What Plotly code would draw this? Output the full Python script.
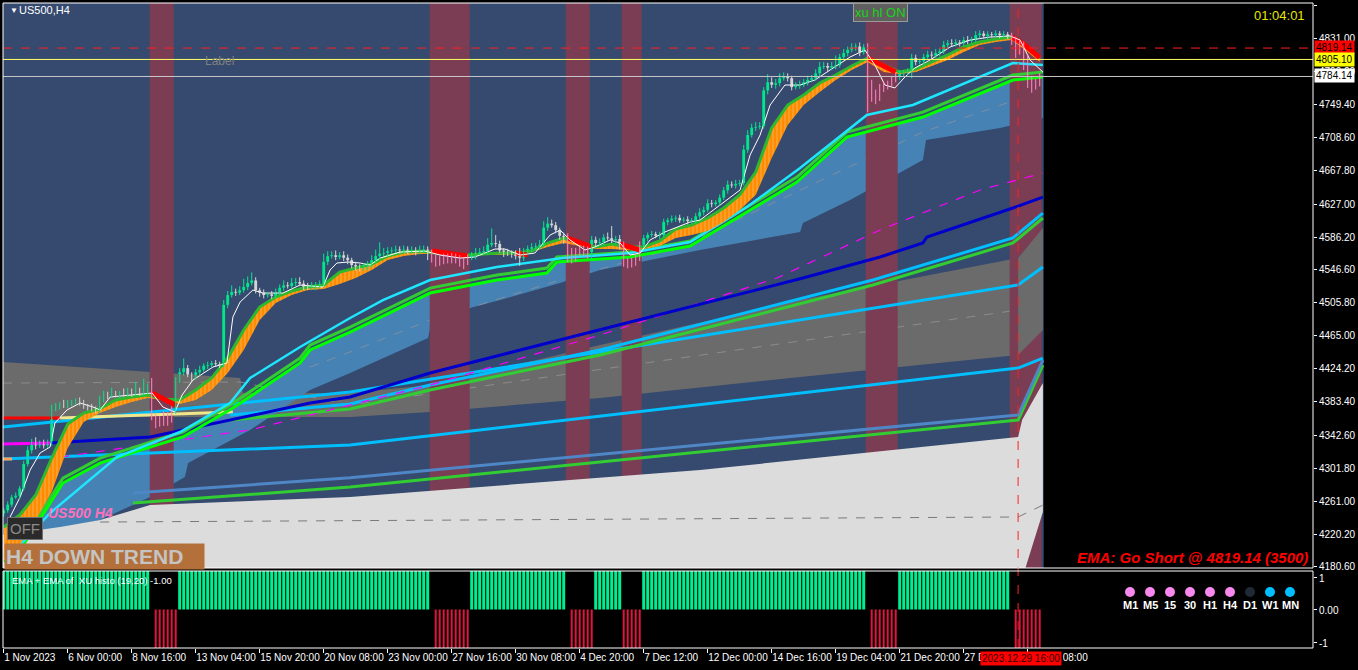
import plotly.graph_objects as go

# ---------------- data ----------------
closes = [
    4250, 4257, 4266, 4268, 4277, 4307, 4324, 4334, 4330, 4333, 4330, 4334, 4375, 4378, 4380, 4379, 4382, 4383, 4384, 4382,
    4378, 4377, 4375, 4373, 4386, 4393, 4391, 4393, 4392, 4394, 4393, 4396, 4394, 4396, 4394, 4397, 4398, 4364, 4361, 4363,
    4368, 4364, 4373, 4410, 4420, 4425, 4417, 4414, 4420, 4423, 4428, 4429, 4431, 4430, 4429, 4503, 4515, 4519, 4518, 4521,
    4525, 4530, 4533, 4521, 4518, 4515, 4516, 4514, 4518, 4524, 4527, 4526, 4530, 4531, 4529, 4525, 4524, 4525, 4526, 4529,
    4556, 4563, 4564, 4562, 4564, 4561, 4558, 4552, 4550, 4548, 4550, 4552, 4558, 4563, 4566, 4567, 4569, 4570, 4571, 4570,
    4571, 4569, 4570, 4568, 4570, 4571, 4566, 4561, 4558, 4559, 4562, 4563, 4561, 4560, 4558, 4556, 4561, 4563, 4567, 4568,
    4569, 4577, 4579, 4578, 4570, 4568, 4567, 4566, 4563, 4561, 4568, 4572, 4574, 4575, 4577, 4598, 4603, 4601, 4595, 4588,
    4583, 4567, 4566, 4568, 4570, 4571, 4568, 4583, 4579, 4580, 4586, 4585, 4583, 4584, 4577, 4558, 4556, 4557, 4561, 4577,
    4585, 4589, 4590, 4588, 4589, 4605, 4607, 4609, 4610, 4607, 4608, 4606, 4607, 4612, 4617, 4620, 4628, 4627, 4629, 4635,
    4644, 4651, 4650, 4652, 4653, 4694, 4712, 4721, 4722, 4723, 4767, 4777, 4774, 4776, 4782, 4784, 4782, 4771, 4773, 4774,
    4777, 4780, 4782, 4788, 4796, 4797, 4795, 4797, 4798, 4808, 4813, 4817, 4820, 4821, 4814, 4820, 4776, 4765, 4759, 4771,
    4773, 4776, 4780, 4784, 4788, 4789, 4790, 4807, 4802, 4803, 4808, 4811, 4810, 4813, 4815, 4823, 4825, 4824, 4826, 4825,
    4829, 4828, 4829, 4835, 4837, 4834, 4836, 4835, 4837, 4835, 4836, 4834, 4827, 4817, 4823, 4807, 4780, 4774, 4777, 4784,
]
first_open = 4246
hi_wick = [
    3, 4, 3, 4, 3, 4, 5, 4, 6, 3, 4, 3, 5, 4, 3, 6, 4, 3, 4, 5,
    4, 3, 4, 3, 5, 4, 3, 8, 4, 3, 6, 5, 4, 12, 5, 15, 8, 15, 4, 3,
    4, 3, 5, 4, 5, 12, 4, 3, 4, 5, 3, 4, 3, 4, 3, 6, 5, 8, 4, 5,
    10, 8, 10, 4, 3, 4, 3, 4, 5, 4, 6, 4, 6, 5, 6, 4, 5, 6, 5, 4,
    10, 6, 5, 6, 4, 5, 4, 3, 4, 3, 4, 5, 6, 8, 14, 6, 5, 4, 5, 4,
    5, 4, 5, 4, 6, 5, 4, 5, 4, 5, 4, 3, 4, 5, 4, 3, 4, 5, 6, 5,
    6, 8, 18, 10, 4, 3, 4, 3, 4, 10, 5, 4, 5, 4, 6, 8, 8, 5, 4, 3,
    4, 8, 6, 5, 4, 5, 4, 5, 4, 5, 4, 6, 15, 4, 5, 4, 3, 4, 5, 4,
    4, 3, 4, 3, 4, 4, 3, 4, 3, 4, 3, 4, 3, 4, 5, 4, 5, 4, 3, 4,
    4, 5, 4, 5, 4, 6, 6, 5, 6, 5, 4, 10, 6, 5, 6, 5, 4, 3, 4, 5,
    4, 5, 4, 5, 6, 5, 4, 5, 12, 4, 5, 4, 5, 4, 5, 4, 5, 4, 3, 4,
    4, 3, 4, 5, 4, 3, 4, 5, 4, 3, 4, 5, 4, 5, 4, 5, 4, 5, 4, 3,
    4, 5, 4, 5, 4, 3, 4, 3, 4, 3, 4, 3, 4, 6, 5, 4, 4, 5, 4, 4,
]
lo_wick = [
    4, 3, 3, 2, 4, 3, 3, 4, 5, 3, 4, 3, 4, 3, 4, 3, 3, 4, 3, 3,
    3, 4, 3, 4, 3, 3, 4, 3, 3, 4, 3, 3, 4, 3, 3, 3, 4, 3, 10, 8,
    9, 10, 6, 4, 3, 4, 3, 5, 3, 4, 3, 4, 3, 3, 4, 3, 4, 3, 4, 3,
    3, 4, 3, 4, 5, 4, 3, 4, 3, 3, 4, 3, 3, 4, 3, 4, 3, 3, 4, 3,
    3, 4, 3, 4, 3, 4, 5, 4, 5, 4, 3, 4, 3, 3, 4, 3, 4, 3, 3, 4,
    3, 4, 3, 4, 3, 3, 8, 6, 8, 7, 6, 8, 7, 6, 8, 9, 4, 3, 4, 3,
    3, 4, 3, 4, 3, 6, 4, 5, 4, 10, 4, 3, 4, 3, 4, 3, 4, 3, 4, 5,
    5, 12, 12, 10, 6, 7, 8, 10, 4, 3, 4, 3, 4, 5, 6, 8, 8, 7, 6, 4,
    3, 4, 3, 3, 4, 3, 4, 3, 4, 3, 3, 4, 3, 4, 3, 4, 3, 4, 3, 4,
    3, 4, 3, 4, 3, 3, 4, 3, 4, 3, 3, 5, 4, 5, 4, 3, 4, 4, 3, 4,
    3, 4, 3, 3, 4, 3, 4, 3, 4, 3, 3, 4, 3, 4, 5, 3, 36, 12, 9, 5,
    6, 5, 4, 3, 4, 4, 3, 8, 4, 3, 4, 3, 4, 3, 4, 3, 4, 3, 3, 4,
    3, 4, 3, 3, 4, 3, 4, 3, 3, 4, 3, 4, 4, 10, 6, 15, 10, 10, 6, 5,
]

# down-trend zones (bar indices, inclusive)
band_start = [37, 107, 141, 155, 216, 252]
band_end = [42, 116, 146, 159, 223, 259]
hist_dn_start = [38, 108, 142, 155, 217, 253]
hist_dn_end = [43, 116, 147, 159, 223, 259]

# fast white average
white_x = [1.6, 4.1, 6.6, 9.1, 11.6, 12.8, 15.8, 19.1, 22.3, 24.1, 26.6, 32.3, 37.1, 39.8, 42.8, 44.6, 47.3, 52.3,
           55.8, 57.3, 59.1, 62.3, 64.8, 69.8, 74.1, 79.8, 81.6, 83.3, 86.1, 89.1, 91.6, 94.1, 99.1, 105.3, 109.1,
           114.1, 117.8, 122.8, 125.3, 129.1, 132.8, 136.6, 139.1, 141.6, 145.3, 147.8, 151.6, 154.1, 156.6, 159.1,
           161.6, 165.3, 171.6, 174.1, 179.1, 184.1, 186.6, 189.1, 191.6, 195.3, 199.1, 202.8, 206.6, 211.6, 215.3,
           217.8, 220.3, 222.8, 225.3, 227.8, 231.6, 236.6, 241.6, 246.6, 251.6, 254.1, 256.6, 259.8]
white_y = [4241.8, 4266.4, 4299.6, 4320.6, 4328.0, 4357.5, 4373.5, 4382.1, 4377.2, 4373.5, 4389.5, 4392.0, 4394.4,
           4377.2, 4371.0, 4392.0, 4410.4, 4426.4, 4431.4, 4488.0, 4506.5, 4521.2, 4517.5, 4517.5, 4527.4, 4524.9,
           4545.9, 4554.5, 4555.7, 4554.5, 4552.0, 4560.6, 4568.0, 4569.2, 4564.3, 4560.6, 4561.9, 4571.7, 4571.7,
           4564.3, 4566.8, 4588.9, 4595.1, 4582.8, 4570.5, 4574.2, 4582.8, 4579.1, 4564.3, 4566.8, 4582.8, 4592.7,
           4604.9, 4607.4, 4625.9, 4644.4, 4687.5, 4712.1, 4749.0, 4773.6, 4773.6, 4779.8, 4792.1, 4808.1, 4816.7,
           4798.3, 4773.6, 4770.0, 4783.5, 4794.6, 4804.4, 4820.4, 4829.0, 4832.7, 4834.0, 4829.0, 4804.4, 4789.6]

# orange ribbon (upper green edge and lower orange edge), every 4 bars
rib_x = list(range(0, 257, 4)) + [259]
rib_top = [4229.5, 4244.2, 4268.8, 4314.4, 4356.3, 4369.8, 4374.8, 4385.8, 4389.5, 4392.0, 4387.0, 4385.8, 4398.1,
           4412.9, 4437.5, 4472.0, 4500.3, 4512.6, 4520.0, 4524.9, 4527.4, 4543.4, 4548.3, 4553.3, 4563.1, 4568.0,
           4569.2, 4566.8, 4565.6, 4564.3, 4565.6, 4566.8, 4566.8, 4569.2, 4579.1, 4585.3, 4579.1, 4574.2, 4577.9,
           4574.2, 4574.2, 4581.6, 4596.4, 4601.3, 4609.9, 4622.2, 4638.2, 4666.5, 4720.7, 4749.0, 4761.3, 4776.1,
           4786.0, 4797.0, 4806.9, 4798.3, 4789.6, 4793.3, 4802.0, 4810.6, 4820.4, 4826.6, 4830.3, 4832.7, 4820.4,
           4806.9]
rib_bot = [4188.8, 4207.3, 4238.1, 4272.5, 4326.7, 4358.7, 4369.8, 4377.2, 4383.4, 4388.3, 4385.8, 4380.9, 4385.8,
           4398.1, 4419.1, 4447.4, 4484.3, 4505.2, 4515.1, 4521.2, 4522.5, 4528.6, 4536.0, 4545.9, 4558.2, 4563.1,
           4565.6, 4565.6, 4563.1, 4563.1, 4564.3, 4564.3, 4565.6, 4568.0, 4574.2, 4579.1, 4575.4, 4571.7, 4571.7,
           4570.5, 4571.7, 4575.4, 4585.3, 4588.9, 4593.9, 4604.9, 4619.7, 4638.2, 4683.8, 4724.4, 4749.0, 4765.0,
           4779.8, 4792.1, 4802.0, 4789.6, 4787.2, 4789.6, 4797.0, 4804.4, 4814.3, 4822.9, 4826.6, 4829.0, 4814.3,
           4802.0]
red_x = [37, 40, 43, None, 107, 112, 116, None, 128, 131, None, 141, 144, 147, None, 154, 157, 159, None,
         216, 219, 223, None, 252, 255, 259]
red_y = [4394.4, 4387.0, 4379.7, None, 4569.2, 4565.6, 4563.1, None, 4566.8, 4564.3, None, 4585.3, 4579.1, 4574.2,
         None, 4577.9, 4572.9, 4570.5, None, 4806.9, 4799.5, 4789.6, None, 4832.7, 4824.1, 4806.9]

cyan_x = [0.1, 4.1, 11.6, 28.3, 44.1, 56.6, 61.6, 74.1, 86.6, 94.8, 106.6, 123.3, 139.8, 156.6, 171.6, 185.8, 199.1,
          215.8, 227.3, 244.1, 252.3, 259.8]
cyan_y = [4195.0, 4207.3, 4246.7, 4315.6, 4346.4, 4382.1, 4412.9, 4451.1, 4486.8, 4508.9, 4533.5, 4549.6, 4560.6,
          4566.8, 4580.3, 4623.4, 4671.5, 4736.7, 4749.0, 4783.5, 4800.7, 4798.3]
lime_x = [0.1, 4.1, 14.8, 24.1, 36.6, 44.8, 57.3, 74.1, 76.6, 86.6, 106.6, 123.3, 135.8, 138.3, 156.6, 171.6, 198.3,
          210.8, 229.8, 252.3, 259.8]
lime_y = [4186.4, 4201.1, 4283.6, 4308.2, 4327.9, 4340.3, 4375.9, 4431.4, 4447.4, 4469.5, 4517.5, 4533.5, 4542.2,
          4555.7, 4561.9, 4575.4, 4654.2, 4709.6, 4734.2, 4779.8, 4783.5]
green2_y = [4192.5, 4207.2, 4289.7, 4314.3, 4334.0, 4346.4, 4382.0, 4437.5, 4453.5, 4475.6, 4523.6, 4539.6, 4548.3,
            4561.8, 4568.0, 4581.5, 4660.3, 4715.7, 4740.3, 4785.9, 4789.6]
env_lo_x = [0.1, 11.6, 24.1, 36.6, 45.3, 46.1, 61.6, 76.6, 86.6, 106.1, 107.1, 124.1, 139.1, 149.1, 174.1, 199.1,
            199.8, 211.6, 229.8, 230.6, 249.1, 259.8]
env_lo_y = [4182.7, 4225.8, 4238.1, 4266.4, 4291.0, 4308.2, 4348.9, 4398.1, 4419.1, 4462.2, 4486.8, 4508.9, 4529.9,
            4545.9, 4570.5, 4592.7, 4603.7, 4632.0, 4681.3, 4705.9, 4720.7, 4733.0]
env_mid_x = [76.6, 86.6, 106.6, 139.1, 169.1, 199.1, 229.8, 256.6]
env_mid_y = [4426.4, 4444.9, 4484.3, 4533.5, 4574.2, 4644.4, 4715.8, 4761.3]

cloud_top_x = [-0.2, 59.1, 59.8, 86.6, 106.6, 149.1, 199.1, 249.1, 253.6, 259.8]
cloud_top_y = [4432.6, 4412.9, 4394.4, 4394.4, 4404.3, 4453.5, 4508.9, 4555.7, 4560.6, 4597.6]
cloud_bot_x = [-0.2, 86.6, 106.6, 149.1, 199.1, 249.1, 253.6, 259.8]
cloud_bot_y = [4364.9, 4364.9, 4371.0, 4388.3, 4414.1, 4438.8, 4441.2, 4472.0]

dsb1_x = [-0.2, 86.6, 253.6, 259.8]
dsb1_y = [4352.6, 4395.6, 4527.4, 4549.6]
dsb2_x = [-0.2, 86.6, 253.6, 259.8]
dsb2_y = [4313.2, 4330.4, 4425.2, 4437.5]
dsb3_x = [56.6, 86.6, 106.6, 149.1, 217.3, 252.3, 259.8]
dsb3_y = [4367.3, 4380.9, 4404.3, 4447.4, 4533.5, 4585.3, 4616.0]
grn3_y = [4361.2, 4374.8, 4398.1, 4441.2, 4527.4, 4579.1, 4609.9]
dblue_x = [11.6, 36.6, 76.6, 86.6, 106.6, 149.1, 199.8, 219.1, 229.8, 230.8, 252.3, 259.8]
dblue_y = [4332.9, 4340.3, 4382.1, 4389.5, 4419.1, 4472.0, 4536.0, 4561.9, 4579.1, 4586.5, 4622.2, 4635.7]
mag_solid_x = [-0.2, 11.6]
mag_solid_y = [4331.6, 4332.9]
mag_dash_x = [14.1, 61.6, 86.6, 106.6, 149.1, 193.3, 219.1, 244.1, 259.8]
mag_dash_y = [4315.6, 4348.9, 4379.7, 4404.3, 4465.8, 4536.0, 4595.1, 4644.4, 4665.3]
red_left_x = [-0.2, 14.1]
red_left_y = [4363.7, 4363.7]
khaki_x = [14.1, 57.3]
khaki_y = [4363.7, 4371.0]
sand_x = [-0.2, 2.1]
sand_y = [4313.2, 4313.2]
sb_low_x = [32.3, 86.6, 253.6, 259.8]
sb_low_y = [4271.3, 4290.0, 4367.3, 4435.0]
gr_low_y = [4258.9, 4278.7, 4361.2, 4428.9]
lgray_top_x = [-0.2, 14.1, 24.1, 36.6, 86.6, 174.1, 253.6, 254.6, 259.8]
lgray_top_y = [4219.6, 4229.5, 4238.1, 4256.5, 4266.4, 4299.6, 4340.3, 4361.2, 4406.7]
lgray_bot_x = [-0.2, 253.6, 259.8]
lgray_bot_y = [4150.0, 4150.0, 4248.0]
dash1_x = [24.1, 253.6, 259.8]
dash1_y = [4235.6, 4241.8, 4256.5]
dash2_x = [-0.2, 59.1, 86.6, 253.6, 259.8]
dash2_y = [4406.7, 4408.0, 4379.7, 4496.6, 4521.2]

price_ticks = [4871.80, 4831.00, 4790.20, 4749.40, 4708.60, 4667.80, 4627.00, 4586.20, 4546.60, 4505.80,
               4465.00, 4424.20, 4383.40, 4342.60, 4301.80, 4261.00, 4220.20, 4180.60]
time_tick_bars = list(range(0, 257, 16))
time_labels = ["1 Nov 2023", "6 Nov 00:00", "8 Nov 16:00", "13 Nov 04:00", "15 Nov 20:00", "20 Nov 08:00",
               "23 Nov 00:00", "27 Nov 16:00", "30 Nov 08:00", "4 Dec 20:00", "7 Dec 12:00", "12 Dec 00:00",
               "14 Dec 16:00", "19 Dec 04:00", "21 Dec 20:00", "27 Dec 08:00", "28 Dec 08:00"]
sell_level = 4819.14
yellow_level = 4805.10
bid_level = 4784.14
cursor_bar = 253.6
tf_names = ["M1", "M5", "15", "30", "H1", "H4", "D1", "W1", "MN"]
tf_colors = ["#F987F0", "#F987F0", "#F987F0", "#F987F0", "#F987F0", "#F987F0", "#1F2A36", "#00BFFF", "#00BFFF"]

# ---------------- helpers ----------------
N = len(closes)
opens = [first_open] + closes[:-1]
highs = [max(o, c) + h for o, c, h in zip(opens, closes, hi_wick)]
lows = [min(o, c) - l for o, c, l in zip(opens, closes, lo_wick)]


def in_ranges(i, starts, ends):
    return any(s <= i <= e for s, e in zip(starts, ends))


def px(x):
    return (x - 3) / 1310.0


def py(y):
    return (648 - y) / 645.0


YMIN, YMAX = 4179.0, 4874.6
MAIN_DOM = [py(568), 1.0]
SUB_DOM = [0.0, py(571)]
FONT = "Liberation Sans"

fig = go.Figure()


def line(xs, ys, color, width, dash=None, yaxis="y"):
    fig.add_trace(go.Scatter(x=xs, y=ys, mode="lines", yaxis=yaxis, hoverinfo="skip",
                             line=dict(color=color, width=width, dash=dash)))


def band_fill(xlo, ylo, xhi, yhi, color, pattern=None):
    fig.add_trace(go.Scatter(x=xlo, y=ylo, mode="lines", line=dict(width=0), hoverinfo="skip"))
    kw = dict(x=xhi, y=yhi, mode="lines", line=dict(width=0), fill="tonexty", fillcolor=color, hoverinfo="skip")
    if pattern:
        kw["fillpattern"] = pattern
    fig.add_trace(go.Scatter(**kw))


# clouds behind everything
band_fill(cloud_bot_x, cloud_bot_y, cloud_top_x, cloud_top_y, "#6B6B6B")
line(dash2_x, dash2_y, "#8C8C8C", 1, "dash")
band_fill(env_lo_x, env_lo_y, lime_x, lime_y, "#4682B4")
line(env_mid_x, env_mid_y, "#7F8FA0", 1, "dash")

# maroon down-trend columns
for s, e in zip(band_start, band_end):
    fig.add_trace(go.Scatter(x=[s - 0.5, e + 0.5, e + 0.5, s - 0.5], y=[4100, 4100, 4950, 4950],
                             mode="lines", line=dict(width=0), fill="toself", fillcolor="#7A3D54",
                             hoverinfo="skip"))

# projected tail of the grey cloud shows on top of the last column
band_fill(cloud_bot_x[-2:], cloud_bot_y[-2:], cloud_top_x[-2:], cloud_top_y[-2:], "#6B6B6B")

# light grey lower cloud
band_fill(lgray_bot_x, lgray_bot_y, lgray_top_x, lgray_top_y, "#DCDCDC")
line(dash1_x, dash1_y, "#7A7A7A", 1, "dash")

# long averages
line(sb_low_x, gr_low_y, "#32CD32", 3)
line(sb_low_x, sb_low_y, "#4F86C6", 3)
line(dsb2_x, dsb2_y, "#00BFFF", 3)
line(sand_x, sand_y, "#F4A460", 3)
line(dsb1_x, dsb1_y, "#00BFFF", 3)
line(red_left_x, red_left_y, "#FF0000", 3)
line(khaki_x, khaki_y, "#F0E68C", 3)
line(dsb3_x, grn3_y, "#32CD32", 3)
line(dsb3_x, dsb3_y, "#00BFFF", 3)
line(mag_dash_x, mag_dash_y, "#FF00FF", 1.2, "dash")
line(mag_solid_x, mag_solid_y, "#FF00FF", 3)
line(dblue_x, dblue_y, "#0000CD", 3)
line(lime_x, green2_y, "#32CD32", 3)
line(lime_x, lime_y, "#00FF00", 3)
line(cyan_x, cyan_y, "#1EE6FF", 2.5)

# orange ribbon
band_fill(rib_x, rib_bot, rib_x, rib_top, "#FF8C00",
          pattern=dict(shape="|", bgcolor="#FF8C00", fgcolor="#F3D9B0", size=4, solidity=0.22))
line(rib_x, rib_top, "#2DB82D", 3)
line(red_x, red_y, "#FF0000", 5)
line(white_x, white_y, "#FFFFFF", 1)

# candles
groups = {"bull": [], "bear": [], "pink": []}
for i in range(N):
    if in_ranges(i, band_start, band_end):
        groups["pink"].append(i)
    elif closes[i] >= opens[i]:
        groups["bull"].append(i)
    else:
        groups["bear"].append(i)
gcol = {"bull": "#00E68A", "bear": "#D6D6D6", "pink": "#FF88C8"}
for g, idx in groups.items():
    wx, wy = [], []
    for i in idx:
        wx += [i, i, None]
        wy += [lows[i], highs[i], None]
    line(wx, wy, gcol[g], 1)
    fig.add_trace(go.Bar(x=idx, y=[max(abs(closes[i] - opens[i]), 0.9) for i in idx],
                         base=[min(closes[i], opens[i]) for i in idx], width=0.72,
                         marker=dict(color=gcol[g], line=dict(width=0)), hoverinfo="skip"))

# sub-window histogram
hist = []
for i in range(N):
    if in_ranges(i, hist_dn_start, hist_dn_end):
        hist.append(-1)
    elif in_ranges(i, band_start, band_end):
        hist.append(0)
    else:
        hist.append(1)
up_i = [i for i in range(N) if hist[i] > 0]
dn_i = [i for i in range(N) if hist[i] < 0]
fig.add_trace(go.Bar(x=up_i, y=[hist[i] for i in up_i], yaxis="y2", width=0.75,
                     marker=dict(color="#00EE90", line=dict(width=0)), hoverinfo="skip"))
fig.add_trace(go.Bar(x=dn_i, y=[hist[i] for i in dn_i], yaxis="y2", width=0.5,
                     marker=dict(color="#E0143C", line=dict(width=0)), hoverinfo="skip"))

# ---------------- shapes ----------------
shapes = [
    dict(type="rect", xref="x", yref="paper", x0=-0.5, x1=260.0, y0=MAIN_DOM[0], y1=1,
         fillcolor="#354A6E", line=dict(width=0), layer="below"),
    dict(type="line", xref="paper", yref="y", x0=0, x1=1, y0=sell_level, y1=sell_level,
         line=dict(color="#FF2020", width=1, dash="dash"), layer="above"),
    dict(type="line", xref="paper", yref="y", x0=0, x1=1, y0=yellow_level, y1=yellow_level,
         line=dict(color="#FFFF66", width=1), layer="above"),
    dict(type="line", xref="paper", yref="y", x0=0, x1=1, y0=bid_level, y1=bid_level,
         line=dict(color="#C8C8C8", width=1), layer="above"),
    dict(type="line", xref="x", yref="paper", x0=cursor_bar, x1=cursor_bar, y0=0, y1=1,
         line=dict(color="#FF2020", width=1, dash="dash"), layer="above"),
    dict(type="rect", xref="paper", yref="paper", x0=0, x1=1, y0=MAIN_DOM[0], y1=1,
         line=dict(color="#FFFFFF", width=1), layer="above"),
    dict(type="rect", xref="paper", yref="paper", x0=0, x1=1, y0=0, y1=SUB_DOM[1],
         line=dict(color="#FFFFFF", width=1), layer="above"),
]
for k, c in enumerate(tf_colors):
    cx, cy = 1130 + 20 * k, 592
    shapes.append(dict(type="circle", xref="paper", yref="paper", x0=px(cx - 5), x1=px(cx + 5),
                       y0=py(cy + 5), y1=py(cy - 5), fillcolor=c, line=dict(width=0), layer="above"))

# ---------------- annotations ----------------
ann = []


def text(x, y, s, size=11, color="#FFFFFF", xanchor="left", yanchor="middle", **kw):
    ann.append(dict(xref="paper", yref="paper", x=px(x), y=py(y), text=s, showarrow=False,
                    xanchor=xanchor, yanchor=yanchor,
                    font=dict(family=kw.pop("family", FONT), size=size, color=color), **kw))


text(8, 10, "▼", size=8)
text(17, 10, "US500,H4", size=11)
text(1307, 15, "01:04:01", size=13, color="#E6E600", xanchor="right")
text(203, 61, "Label", size=12, color="#808080")
text(853, 12.5, "xu hl ON", size=13, color="#19D219", bgcolor="#5F5F5F", bordercolor="#9A9A9A",
     borderwidth=1, borderpad=1)
text(7, 528, "OFF", size=15, color="#8A8A8A", bgcolor="#2A2A2A", bordercolor="#707070",
     borderwidth=1, borderpad=2)
text(46, 513, "<b><i>US500 H4</i></b>", size=14, color="#FF70B8")
text(4, 556.5, "<b>H4 DOWN TREND</b>", size=21, color="#C4C4C4", bgcolor="#B4703A",
     width=197, height=23, align="left")
text(1310, 557, "<b><i>EMA: Go Short @ 4819.14 (3500)</i></b>", size=15, color="#FF0000", xanchor="right")
text(10, 580, "EMA + EMA of  XU histo (19,20) -1.00", size=9.5)
for k, name in enumerate(tf_names):
    text(1130 + 20 * k, 605, "<b>" + name + "</b>", size=11, xanchor="center")
text(1317, 578, "1", size=10)
text(1317, 610, "0.00", size=10)
text(1317, 643, "-1", size=10)
text(1314, 47, "4819.14", size=10, color="#000000", bgcolor="#FF0000", borderpad=1)
text(1314, 59, "4805.10", size=10, color="#000000", bgcolor="#FFFF00", borderpad=1)
text(1314, 76, "4784.14", size=10, color="#000000", bgcolor="#FFFFFF", borderpad=1)
text(980, 658, "2023.12.29 16:00", size=10, color="#300000", bgcolor="#FF0000", borderpad=1)

fig.update_layout(
    width=1358, height=670,
    margin=dict(l=3, r=45, t=3, b=22, autoexpand=False),
    paper_bgcolor="#000000", plot_bgcolor="#000000",
    showlegend=False, barmode="overlay", hovermode=False,
    shapes=shapes, annotations=ann,
    xaxis=dict(range=[-0.175, 327.325], anchor="y2", showgrid=False, zeroline=False, showline=False,
               automargin=False, tickangle=0,
               tickmode="array", tickvals=time_tick_bars, ticktext=time_labels,
               ticks="outside", ticklen=4, tickcolor="#FFFFFF", ticklabelposition="outside right",
               tickfont=dict(family=FONT, size=10, color="#FFFFFF")),
    yaxis=dict(domain=MAIN_DOM, range=[YMIN, YMAX], side="right", showgrid=False, zeroline=False,
               automargin=False,
               tickmode="array", tickvals=price_ticks, ticktext=["%.2f" % v for v in price_ticks],
               ticks="outside", ticklen=3, tickcolor="#FFFFFF",
               tickfont=dict(family=FONT, size=10, color="#FFFFFF")),
    yaxis2=dict(domain=SUB_DOM, range=[-1, 1], side="right", showgrid=False, zeroline=False,
                automargin=False,
                showticklabels=False, tickmode="array", tickvals=[0.82, 0, -0.86],
                ticks="outside", ticklen=3, tickcolor="#FFFFFF"),
)

fig.write_html("out.html", config={"displayModeBar": False, "staticPlot": True},
               post_script="document.body.style.margin='0px';document.body.style.overflow='hidden';"
                           "document.body.style.background='#000';")
